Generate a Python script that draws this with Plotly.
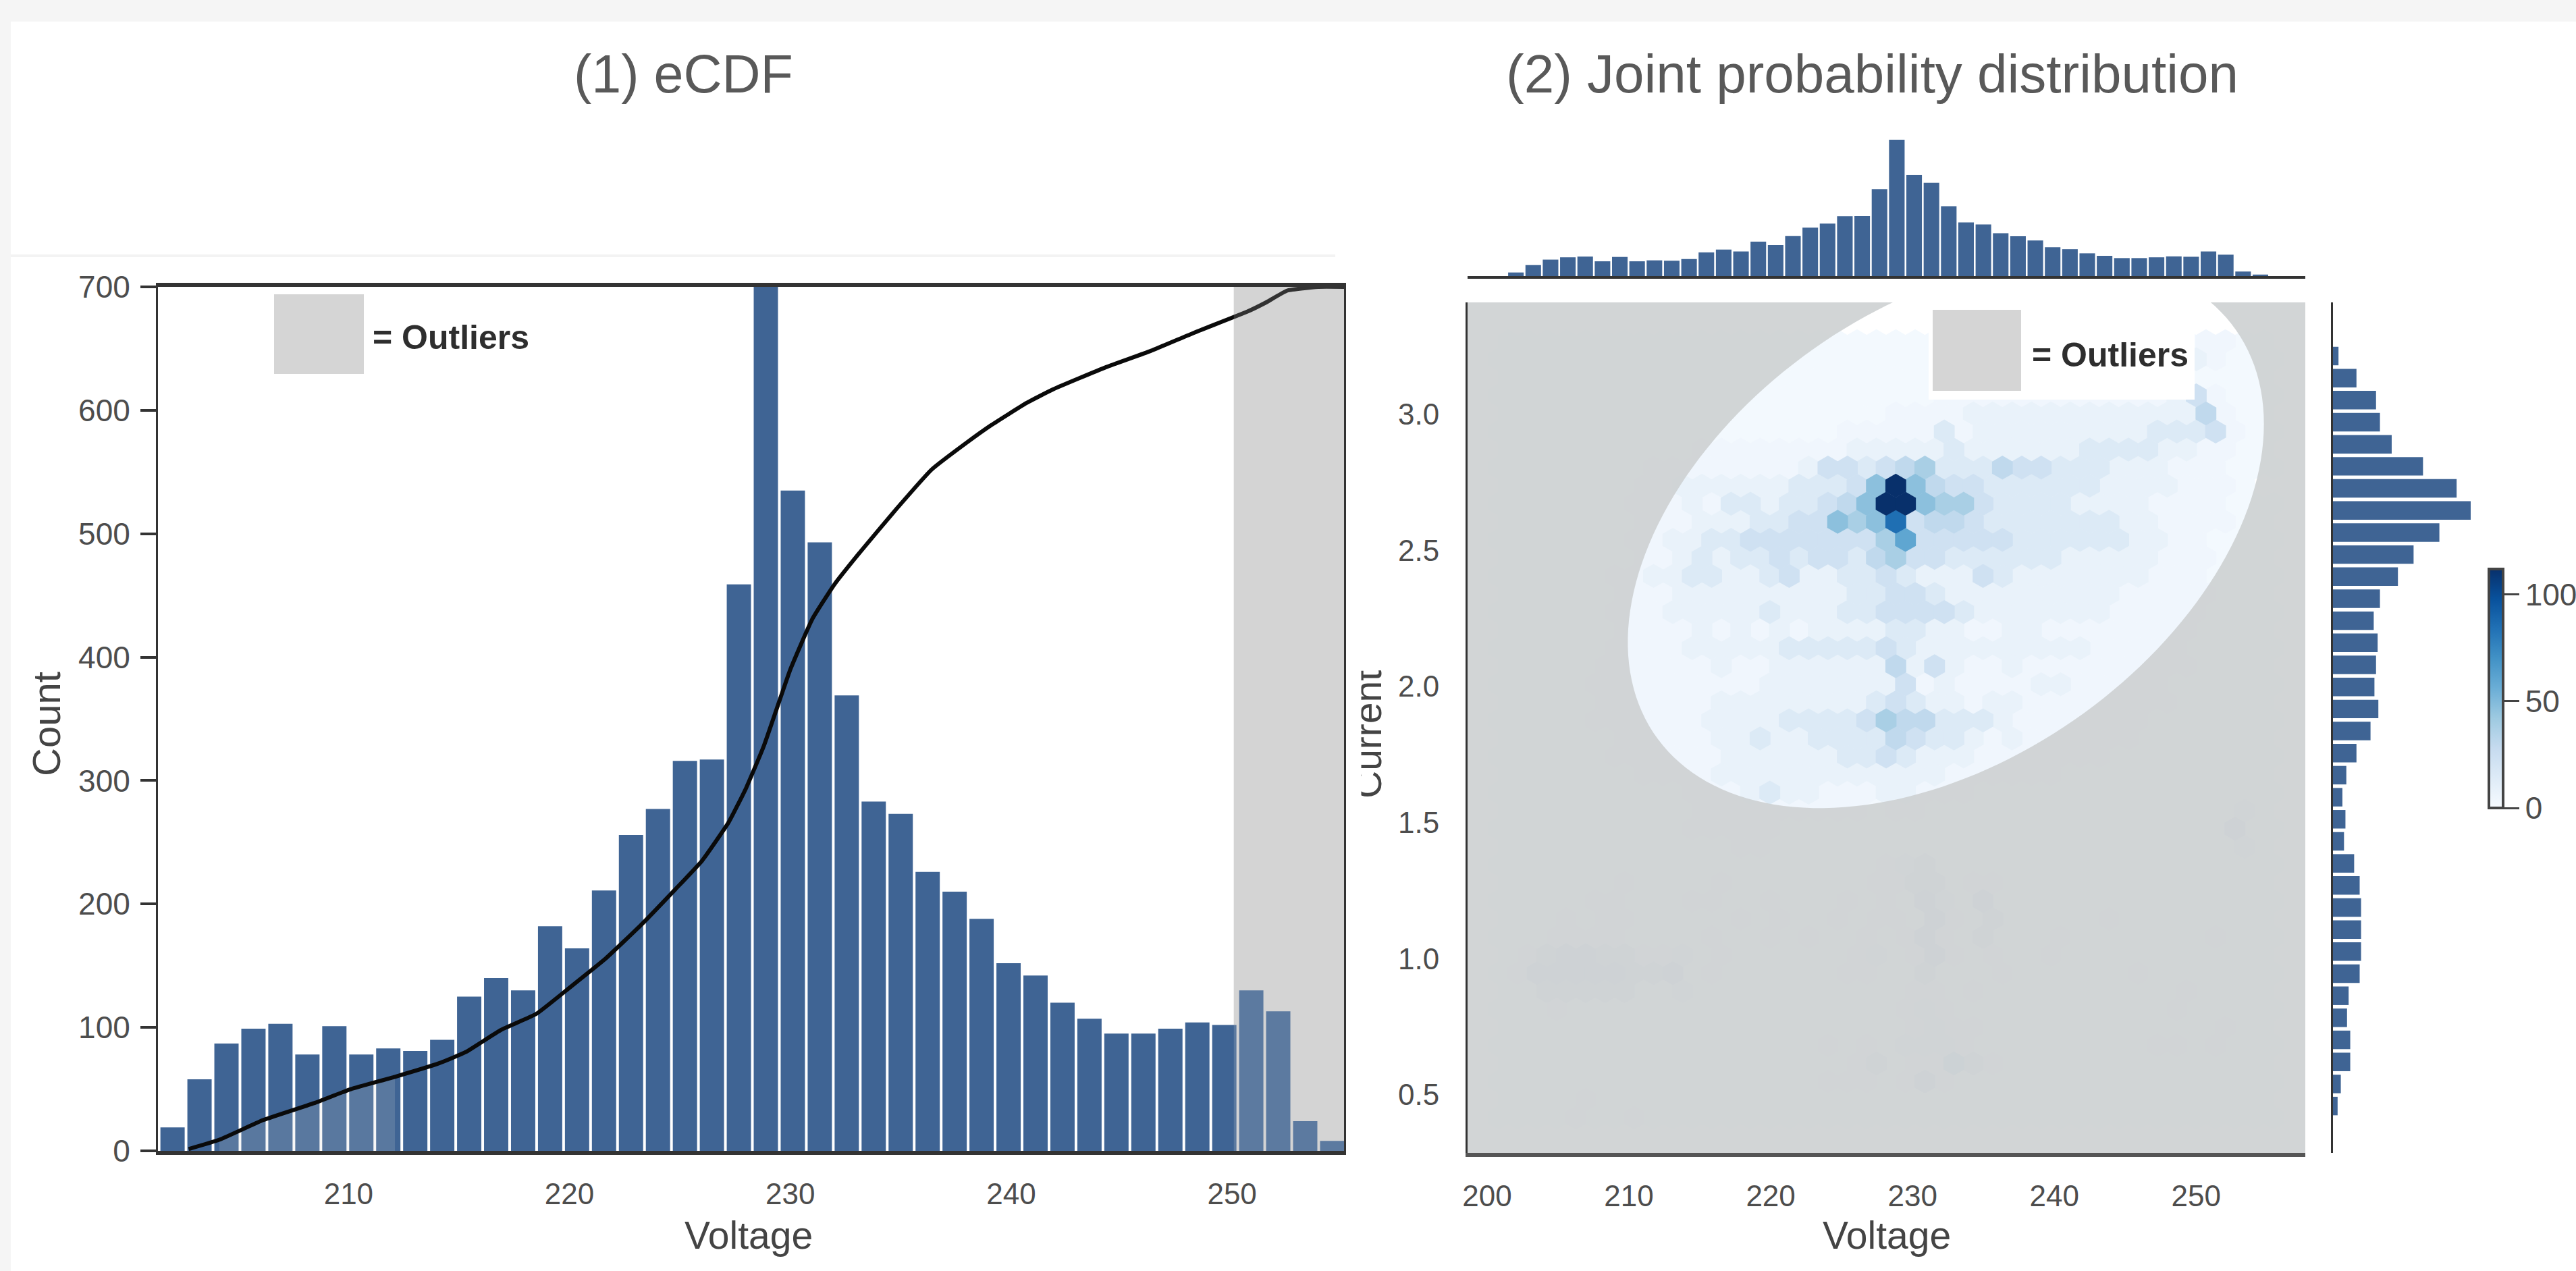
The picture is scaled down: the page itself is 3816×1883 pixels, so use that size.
import numpy as np
import plotly.graph_objects as go

W, H = 3816, 1883
FONT = "Liberation Sans"
BAR = "#3f6494"
TICK = "#4d4d4d"
GREY = "#d5d5d5"

# ---- data ----
VOLT_BIN_START = 201.42
VOLT_BIN_WIDTH = 1.221
VOLT_COUNTS = [19, 58, 87, 99, 103, 78, 101, 78, 83, 81, 90, 125, 140, 130, 182, 164, 211, 256,
               277, 316, 317, 459, 720, 535, 493, 369, 283, 273, 226, 210, 188, 152, 142, 120,
               107, 95, 95, 99, 104, 102, 130, 113, 24, 8]
ECDF_V = [202.76, 204.15, 206.14, 208.5, 210.1, 212.1, 214.1, 215.3, 216.9, 218.5, 220.06, 221.65,
          223.24, 224.8, 226.0, 227.2, 228.0, 228.8, 229.4, 230.0, 231.0, 232.0, 233.2, 234.8,
          236.4, 238.0, 239.1, 240.7, 241.9, 244.3, 246.3, 248.3, 250.7, 251.5, 252.5, 253.9, 255.07]
ECDF_Y = [1.5, 9, 25, 39, 50, 60, 71, 80, 98, 111, 133, 156, 183, 212, 235, 266, 294, 328, 359,
          390, 431, 459, 486, 520, 552, 574, 588, 606, 617, 635, 648, 663, 680, 687, 697, 700, 700]
OUTLIER_START = 250.08

CURRENT_CENTERS_TOP = 3.213
CURRENT_STEP = 0.081
CURRENT_COUNTS = [31, 132, 242, 264, 330, 506, 695, 774, 598, 453, 365, 264, 229, 251, 242, 233,
                  255, 211, 132, 75, 53, 70, 62, 119, 150, 158, 158, 158, 150, 88, 79, 97, 97, 44, 26]

# hexbin estimate: one string per row, top to bottom; one character per cell, left to right
HEX_LEVELS = {"0": 2, "1": 4, "2": 8, "3": 15, "4": 23, "5": 30, "6": 38, "7": 47, "8": 60, "9": 85, "a": 112}
HEX_X0_EVEN = 228.82
HEX_X0_ODD = 228.137
HEX_DX = 1.367
HEX_Y0 = 2.737
HEX_DY = 0.0663
HEX_FIRST_ROW = -8
HEX_ROWS = [
    "0000000000000000000000000000000000001100",
    "00000000000000000000000000000000000021000",
    "0000000000000000000000000001111123100000",
    "00000000000000000000000111111111111241000",
    "0000000000000000000011112222222222225100",
    "00000000000000000011111312222222223334100",
    "0000000000111111112222232222223333221100",
    "00000000111111112443456333544333222111000",
    "00000001122222233347a754433333322221110",
    "00000001112133233457aa7664333322221111000",
    "0000000111222334476794554333333322111100",
    "00000001122334444444684444433333322110000",
    "0000000112323343443564433333322222111000",
    "00000011223322342233432224322222221110000",
    "0000001112222222223344322222222211111000",
    "00000011122222322233444432222222111110000",
    "0000001111212121222233221122111111110000",
    "00000011112222233333432222222221111100000",
    "0000011111121122222252421121111111110000",
    "00000111111111222222241211112211111000000",
    "0000011111122222222343221221111111100000",
    "00000111111222233334655333211111110000000",
    "0000001111122322333354332121111110000000",
    "00000011111122222233432221111111000000000",
    "0000000111122222222222211111100000000000",
    "00000000001112322111221110000000000000000",
    "0000000000111111111011000000000000000020",
    "00000000001111100000000000000000000000400",
    "0000000000001100000000000000000000000020",
    "00000000000000000000123000000000000000000",
    "0000001000010000000113301100000000000000",
    "00000110001100100010104204000000000000000",
    "0001011000001010010110410300000100000000",
    "00011110000100101001014103000100000001000",
    "0134433112010000001201410100100000000000",
    "01444443340100000011003000100000010000000",
    "0033333002000000000001101000000000010000",
    "00010000000000000000012100000000000100000",
    "0000000000000000000001211000000000000100",
    "00000000000000000101022210000000001101000",
    "0000000000000000001301153100000000000000",
    "00000000000000000111014100000000000000000",
    "0000100000000000000000000000000000000000",
    "00001001000000000000000000000000000000000",
]

# outlier boundary ellipse (centre, half extents, correlation)
ELL_CX, ELL_CY, ELL_AX, ELL_AY, ELL_RHO = 232.35, 2.563, 22.43, 1.01, 0.397

# ---- helpers ----
fx = lambda px: px / W
fy = lambda px: 1 - px / H


def rect(x0, y0, x1, y1, color, layer="above"):
    return dict(type="rect", xref="paper", yref="paper", x0=fx(x0), x1=fx(x1), y0=fy(y1), y1=fy(y0),
                fillcolor=color, line_width=0, layer=layer)


def note(text, x, y, size, color="#4d4d4d", bold=False, angle=0, xanchor="center"):
    return dict(text=f"<b>{text}</b>" if bold else text, x=fx(x), y=fy(y), xref="paper", yref="paper",
                showarrow=False, xanchor=xanchor, yanchor="middle", textangle=angle,
                font=dict(family=FONT, size=size, color=color))


bin_centers = [VOLT_BIN_START + VOLT_BIN_WIDTH * (i + 0.5) for i in range(len(VOLT_COUNTS))]
cur_centers = [CURRENT_CENTERS_TOP - CURRENT_STEP * i for i in range(len(CURRENT_COUNTS))]

hx, hy, hc = [], [], []
for r, row in enumerate(HEX_ROWS):
    n = HEX_FIRST_ROW + r
    x0 = HEX_X0_EVEN if n % 2 == 0 else HEX_X0_ODD
    for i, ch in enumerate(row):
        hx.append(x0 + HEX_DX * (i - 20))
        hy.append(HEX_Y0 - HEX_DY * n)
        hc.append(HEX_LEVELS[ch])
order = np.argsort(hc, kind="stable")
hx, hy, hc = np.array(hx)[order], np.array(hy)[order], np.array(hc)[order]

X2_RANGE = [198.62, 257.7]
Y2_RANGE = [0.287, 3.41]

t = np.linspace(0, 2 * np.pi, 180)[:-1]
ex = ELL_CX + ELL_AX * np.cos(t)
ey = ELL_CY + ELL_AY * (ELL_RHO * np.cos(t) + np.sqrt(1 - ELL_RHO ** 2) * np.sin(t))
hole = "M" + " L".join(f"{a:.3f},{b:.4f}" for a, b in zip(ex, ey)) + " Z"
outer = (f"M{X2_RANGE[0]},{Y2_RANGE[0]} L{X2_RANGE[1]},{Y2_RANGE[0]} "
         f"L{X2_RANGE[1]},{Y2_RANGE[1]} L{X2_RANGE[0]},{Y2_RANGE[1]} Z ")

fig = go.Figure()
fig.add_bar(x=bin_centers, y=VOLT_COUNTS, width=VOLT_BIN_WIDTH * 0.9, marker=dict(color=BAR, line_width=0),
            xaxis="x", yaxis="y", showlegend=False)
fig.add_scatter(x=ECDF_V[1:6], y=ECDF_Y[1:6], mode="none", fill="tozeroy", fillcolor="rgba(212,212,212,0.18)",
                xaxis="x", yaxis="y", showlegend=False)
fig.add_scatter(x=ECDF_V, y=ECDF_Y, mode="lines", line=dict(color="#0a0a0a", width=6, shape="spline", smoothing=0.4),
                xaxis="x", yaxis="y", showlegend=False)
fig.add_scatter(x=hx, y=hy, mode="markers", xaxis="x2", yaxis="y2", showlegend=False,
                marker=dict(symbol="hexagon", size=35.6, color=hc, cmin=0, cmax=112, colorscale="Blues",
                            line_width=0,
                            colorbar=dict(x=fx(3687), xanchor="left", y=fy(843), yanchor="top", lenmode="pixels",
                                          len=354, thicknessmode="pixels", thickness=21, xpad=0, ypad=0,
                                          outlinecolor="#444444", outlinewidth=4, tickvals=[0, 50, 100],
                                          ticks="outside", ticklen=22, tickwidth=3, tickcolor="#444444",
                                          tickfont=dict(family=FONT, size=46, color=TICK))))
fig.add_bar(x=bin_centers, y=VOLT_COUNTS, width=VOLT_BIN_WIDTH * 0.9, marker=dict(color=BAR, line_width=0),
            xaxis="x3", yaxis="y3", showlegend=False)
fig.add_bar(y=cur_centers, x=CURRENT_COUNTS, width=CURRENT_STEP * 0.84, orientation="h",
            marker=dict(color=BAR, line_width=0), xaxis="x4", yaxis="y4", showlegend=False)

tickfont = dict(family=FONT, size=44, color=TICK)
shapes = [
    rect(0, 0, W, 32, "#f5f5f5", "below"),
    rect(0, 0, 16, H, "#f5f5f5", "below"),
    rect(16, 377, 1978, 381, "#f3f3f3", "below"),
    dict(type="rect", xref="x", yref="paper", x0=OUTLIER_START, x1=255.07, y0=fy(1705), y1=fy(425),
         fillcolor=GREY, line_width=0, layer="below"),
    dict(type="rect", xref="x", yref="paper", x0=OUTLIER_START, x1=255.07, y0=fy(1705), y1=fy(425),
         fillcolor="rgba(212,212,212,0.2)", line_width=0, layer="above"),
    rect(406, 436, 539, 554, GREY),
    dict(type="path", xref="x2", yref="y2", path=outer + hole, fillrule="evenodd",
         fillcolor="rgba(205,208,210,0.9)", line_width=0, layer="above"),
    rect(2857, 448, 3251, 592, "#ffffff"),
    rect(2863, 459, 2994, 579, GREY),
]
annotations = [
    note("(1) eCDF", 1012, 110, 79, "#595959"),
    note("(2) Joint probability distribution", 2773, 110, 80, "#595959"),
    note("Count", 68, 1073, 58, "#444444", angle=-90),
    note("Voltage", 1109, 1830, 57, "#444444"),
    note("Voltage", 2795, 1830, 57, "#444444"),
    note("Current", 2026, 1088, 57, "#444444", angle=-90),
    note("= Outliers", 550, 500, 50, "#2e2e2e", bold=True, xanchor="left"),
    note("= Outliers", 3008, 526, 50, "#2e2e2e", bold=True, xanchor="left"),
]
# white strip that cuts off the top of the rotated "Current" label, as in the reference
annotations.append(dict(text=" ", x=fx(2008), y=fy(1088), xref="paper", yref="paper", showarrow=False,
                        xanchor="center", yanchor="middle", width=14, height=230, bgcolor="#ffffff",
                        font=dict(size=10)))

fig.update_layout(
    template="none",
    width=W, height=H, margin=dict(l=0, r=0, t=0, b=0, pad=0, autoexpand=False), paper_bgcolor="#ffffff",
    plot_bgcolor="rgba(0,0,0,0)",
    barmode="overlay", shapes=shapes, annotations=annotations, showlegend=False,
    xaxis=dict(domain=[fx(234), fx(1991)], range=[201.37, 255.07], tickvals=[210, 220, 230, 240, 250],
               tickfont=tickfont, ticks="", showgrid=False, zeroline=False, showline=True, mirror=True,
               linecolor="#333333", linewidth=6, anchor="y", ticklabelstandoff=20),
    yaxis=dict(domain=[fy(1705), fy(425)], range=[0, 700], tickvals=[0, 100, 200, 300, 400, 500, 600, 700],
               tickfont=dict(family=FONT, size=46, color=TICK), ticks="outside", ticklen=23, tickwidth=4,
               tickcolor="#333333", showgrid=False, zeroline=False, showline=True, mirror=True, linecolor="#333333",
               linewidth=3, anchor="x", ticklabelstandoff=6),
    xaxis2=dict(domain=[fx(2174), fx(3415)], range=X2_RANGE, tickvals=[200, 210, 220, 230, 240, 250],
                tickfont=tickfont, ticks="", showgrid=False, zeroline=False, showline=True, linecolor="#555555",
                linewidth=6, anchor="y2", ticklabelstandoff=20),
    yaxis2=dict(domain=[fy(1708), fy(448)], range=Y2_RANGE, tickvals=[0.5, 1.0, 1.5, 2.0, 2.5, 3.0],
                tickformat=".1f", tickfont=tickfont, ticks="", showgrid=False, zeroline=False, showline=True,
                linecolor="#333333", linewidth=3, anchor="x2", ticklabelstandoff=30),
    xaxis3=dict(domain=[fx(2174), fx(3415)], range=X2_RANGE, showticklabels=False, ticks="", showgrid=False,
                zeroline=False, showline=True, linecolor="#333333", linewidth=4, anchor="y3"),
    yaxis3=dict(domain=[fy(409), fy(207)], range=[0, 720], visible=False, anchor="x3"),
    xaxis4=dict(domain=[fx(3456), fx(3660)], range=[0, 774], visible=False, anchor="y4"),
    yaxis4=dict(domain=[fy(1708), fy(448)], range=Y2_RANGE, showticklabels=False, ticks="", showgrid=False,
                zeroline=False, showline=True, linecolor="#333333", linewidth=3, anchor="x4"),
)

fig.write_html("out.html", config={"displayModeBar": False},
               post_script="document.body.style.margin='0';document.body.style.overflow='hidden';")
